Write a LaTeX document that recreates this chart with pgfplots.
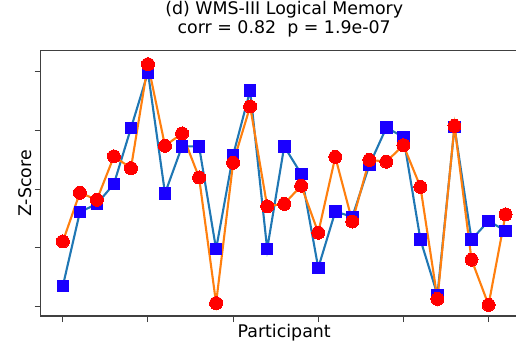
\documentclass[border=0pt]{standalone}
\usepackage{fontspec}
\setmainfont{DejaVu Sans}
\usepackage{pgfplots}
\usepackage{pgfplotstable}
\pgfplotsset{compat=1.18}
\definecolor{tabblue}{HTML}{1F77B4}
\definecolor{taborange}{HTML}{FF7F0E}
\definecolor{mkblue}{HTML}{1A00FF}
\pgfplotstableread{
x a b
0 -1.65 -0.89
1 -0.39 -0.06
2 -0.25 -0.18
3 0.09 0.56
4 1.04 0.36
5 1.99 2.13
6 -0.07 0.74
7 0.73 0.95
8 0.73 0.20
9 -1.02 -1.94
10 0.58 0.45
11 1.68 1.41
12 -1.02 -0.29
13 0.73 -0.25
14 0.26 0.06
15 -1.34 -0.74
16 -0.38 0.55
17 -0.47 -0.55
18 0.41 0.50
19 1.05 0.47
20 0.89 0.75
21 -0.86 0.04
22 -1.80 -1.87
23 1.06 1.08
24 -0.86 -1.20
25 -0.54 -1.97
26 -0.71 -0.43
}\datatable
\begin{document}
\begin{tikzpicture}
\begin{axis}[
  at={(0,0)}, anchor=south west,
  scale only axis, width=487pt, height=265.3pt,
  xmin=-1.3, xmax=27.3, ymin=-2.16, ymax=2.36,
  xtick={0,5,...,25}, ytick={-2,-1,0,1,2},
  xticklabels={}, yticklabels={},
  tick align=outside, xtick pos=bottom, ytick pos=left,
  major tick length=6pt,
  every tick/.style={black!75, line width=1pt},
  axis line style={black!75, line width=1.2pt},
  title={(d) WMS-III Logical Memory\\corr = 0.82\ \ p = 1.9e-07},
  title style={align=center, anchor=south, at={(axis description cs:0.5,1)}, yshift=7pt, inner sep=0pt, font=\fontsize{17.4}{19.5}\selectfont},
  xlabel={Participant},
  every axis x label/.style={at={(axis description cs:0.5,0)}, anchor=base, yshift=-21pt, inner sep=0pt, font=\fontsize{17.4}{20}\selectfont},
  ylabel={Z-Score},
  every axis y label/.style={at={(axis description cs:-0.0179,0.5)}, rotate=90, anchor=south, inner sep=0pt, font=\fontsize{17.4}{20}\selectfont},
]
\addplot[tabblue, line width=2.1pt, mark=square*, mark size=5.8pt, mark options={draw=mkblue, fill=mkblue, line width=0pt}] table[x=x, y=a] {\datatable};
\addplot[taborange, line width=2.1pt, mark=*, mark size=6.5pt, mark options={draw=red, fill=red, line width=0pt}] table[x=x, y=b] {\datatable};
\end{axis}
\pgfresetboundingbox
\useasboundingbox (-40.7pt,-27pt) rectangle (475.3pt,316pt);
\end{tikzpicture}
\end{document}
